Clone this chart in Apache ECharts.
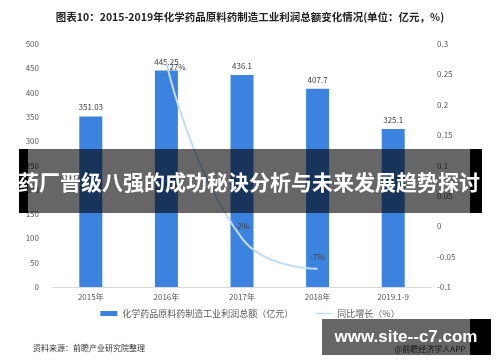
<!DOCTYPE html>
<html><head><meta charset="utf-8">
<script src="https://cdn.jsdelivr.net/npm/echarts@6/dist/echarts.min.js"></script>
<style>html,body{margin:0;padding:0;background:#fff}#c{width:500px;height:362px}</style>
</head><body><div id="c"></div>
<script>
const categories = ['2015年','2016年','2017年','2018年','2019.1-9'];
const profit = [351.03, 445.25, 436.1, 407.7, 325.1];
const growth = [null, 0.27, -0.02, -0.07, null];
const growthLabels = ['', '27%', '-2%', '-7%', ''];
const barName = '化学药品原料药制造工业利润总额（亿元）';
const lineName = '同比增长（%）';
const FONT = '"Noto Sans CJK SC", "Noto Sans", sans-serif';

const labelPos = [null, {position: 'right', offset: [-2, 5]}, {position: 'top', offset: [0, -3]}, {position: 'top', offset: [0, -3]}, null];
const lineData = growth.map((v, i) => v === null ? null : {value: v, label: labelPos[i]});

const chart = echarts.init(document.getElementById('c'));
chart.setOption({
  animation: false,
  textStyle: {fontFamily: FONT},
  title: {
    text: '图表10：2015-2019年化学药品原料药制造工业利润总额变化情况(单位：亿元，%)',
    left: 'center', top: 7,
    textStyle: {fontSize: 10.5, fontWeight: 'bold', color: '#222', fontFamily: FONT}
  },
  grid: {left: 53, right: 69, top: 44, bottom: 75},
  legend: {
    bottom: 39, left: 'center', itemGap: 22,
    textStyle: {fontSize: 9, color: '#595959'},
    data: [
      {name: barName, icon: 'rect', itemStyle: {color: '#3c83e0'}},
      {name: lineName, icon: 'path://M0,0H36V3H0Z', itemStyle: {color: '#c3dcf7'}}
    ],
    itemWidth: 17, itemHeight: 5
  },
  xAxis: {
    type: 'category', data: categories,
    axisLine: {lineStyle: {color: '#d9d9d9'}},
    axisTick: {show: false},
    axisLabel: {fontSize: 8, color: '#595959', margin: 6}
  },
  yAxis: [
    {type: 'value', min: 0, max: 500, interval: 50,
     splitLine: {show: false}, axisLine: {show: false}, axisTick: {show: false},
     axisLabel: {fontSize: 8, color: '#595959', margin: 14}},
    {type: 'value', min: -0.1, max: 0.3, interval: 0.05,
     splitLine: {show: false}, axisLine: {show: false}, axisTick: {show: false},
     axisLabel: {fontSize: 8, color: '#595959', margin: 6,
       formatter: v => (Math.round(v*100)/100).toString()}}
  ],
  series: [
    {name: barName, type: 'bar', data: profit, barWidth: 23,
     itemStyle: {color: '#3c83e0'},
     label: {show: true, position: 'top', fontSize: 8, color: '#404040', distance: 5}},
    {name: lineName, type: 'line', yAxisIndex: 1, data: lineData, smooth: 0.5,
     showSymbol: true, symbol: 'circle', symbolSize: 0.01, connectNulls: false,
     lineStyle: {color: '#c3dcf7', width: 2},
     itemStyle: {color: '#c3dcf7'},
     label: {show: true, fontSize: 8, color: '#404040',
       formatter: p => growthLabels[p.dataIndex]}}
  ],
  graphic: [
    {type: 'text', left: 33, top: 344,
     style: {text: '资料来源：前瞻产业研究院整理', fontSize: 8, fill: '#333', fontFamily: FONT}},
    {type: 'rect', shape: {x: 19, y: 149, width: 463, height: 64}, style: {fill: 'rgba(0,0,0,0.6)'}, z: 100},
    {type: 'rect', shape: {x: 19, y: 149, width: 9, height: 64}, style: {fill: '#000'}, z: 101},
    {type: 'rect', shape: {x: 470, y: 149, width: 12, height: 64}, style: {fill: '#000'}, z: 101},
    {type: 'text', x: 249, y: 182, z: 102,
     style: {text: '药厂晋级八强的成功秘诀分析与未来发展趋势探讨', fontSize: 21, fontWeight: 'bold',
       fill: '#fff', align: 'center', verticalAlign: 'middle', fontFamily: '"Noto Sans CJK SC", sans-serif'}},
    {type: 'text', x: 430, y: 349, z: 99,
     style: {text: '@前瞻经济学人APP', fontSize: 8, fill: '#333', align: 'center', verticalAlign: 'middle', fontFamily: FONT}},
    {type: 'rect', shape: {x: 322, y: 319, width: 169, height: 36}, style: {fill: 'rgba(0,0,0,0.6)'}, z: 100},
    {type: 'rect', shape: {x: 470, y: 319, width: 21, height: 36}, style: {fill: '#000'}, z: 101},
    {type: 'text', x: 406, y: 337, z: 102,
     style: {text: 'www.site--c7.com', fontSize: 17, fontWeight: 'bold', fill: '#fff',
       align: 'center', verticalAlign: 'middle', fontFamily: '"Liberation Sans", sans-serif'}}
  ]
});
</script></body></html>
